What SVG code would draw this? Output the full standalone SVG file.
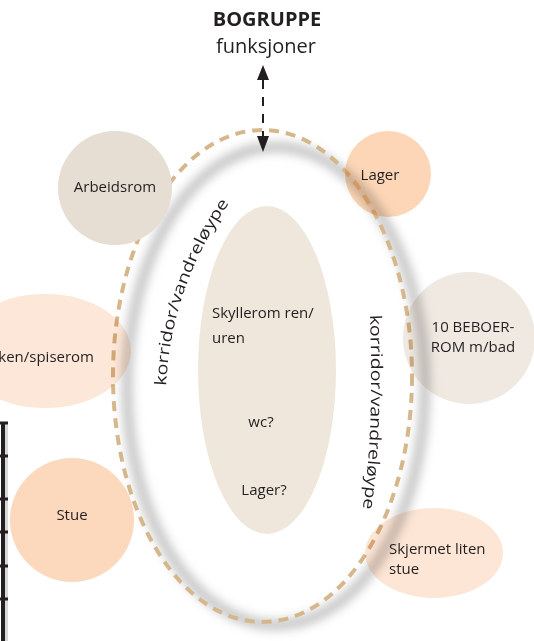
<svg xmlns="http://www.w3.org/2000/svg" width="534" height="641" viewBox="0 0 534 641">
<defs>
<style>
text{font-family:"Open Sans","Noto Sans",sans-serif;font-size:15px;fill:#231f20}
.c{text-anchor:middle}
.mb{mix-blend-mode:multiply}
.k{font-size:16px}
</style>
<filter id="blur" x="-20%" y="-20%" width="140%" height="140%"><feGaussianBlur stdDeviation="5"/></filter>
<path id="pl" d="M 166 386 C 169 330 184 268 232 199"/>
<path id="pr" d="M 370 315 C 372 380 372 450 362 514"/>
</defs>
<rect width="534" height="641" fill="#fff"/>

<g id="left-bar">
<rect x="5" y="422" width="3" height="219" fill="#d8d8d8"/>
<rect x="1" y="422" width="4" height="219" fill="#231f20"/>
<g stroke="#231f20" stroke-width="3">
<line x1="0" y1="423" x2="8" y2="423"/>
<line x1="0" y1="456" x2="8" y2="456"/>
<line x1="0" y1="499" x2="8" y2="499"/>
<line x1="0" y1="532" x2="8" y2="532"/>
<line x1="0" y1="566" x2="8" y2="566"/>
<line x1="0" y1="599" x2="8" y2="599"/>
</g>
</g>

<g id="ring">
<ellipse cx="276" cy="386" rx="149" ry="239" fill="none" stroke="#c8c8c8" stroke-width="11" filter="url(#blur)"/>
<ellipse cx="262.5" cy="376" rx="149.5" ry="246" fill="none" stroke="#d5b78b" stroke-width="4" stroke-dasharray="10 7"/>
</g>

<g id="center">
<ellipse cx="267" cy="370" rx="69" ry="164" fill="#efe7dc"/>
<text x="212" y="318">Skyllerom ren/</text>
<text x="212" y="343">uren</text>
<text x="261" y="427" class="c">wc?</text>
<text x="264" y="495" class="c">Lager?</text>
</g>

<g id="arbeidsrom">
<circle cx="115" cy="188" r="57" fill="#e6ddd3"/>
<text x="115" y="192" class="c">Arbeidsrom</text>
</g>
<g id="lager">
<circle cx="388" cy="174" r="43" fill="#fcd6b6" class="mb"/>
<text x="380" y="180" class="c">Lager</text>
</g>
<g id="beboerrom">
<circle cx="469" cy="338" r="66" fill="#efe9e2" class="mb"/>
<text x="473" y="332" class="c">10 BEBOER-</text>
<text x="473" y="352" class="c">ROM m/bad</text>
</g>
<g id="kjokken">
<ellipse cx="45" cy="351" rx="86" ry="57" fill="#fde7d8" class="mb"/>
<text x="94" y="362" text-anchor="end">ken/spiserom</text>
</g>
<g id="stue">
<circle cx="72" cy="520" r="62" fill="#fcd8bd" class="mb"/>
<text x="72" y="520" class="c">Stue</text>
</g>
<g id="skjermet">
<ellipse cx="434" cy="553" rx="69" ry="45" fill="#fde6d6" class="mb"/>
<text x="389" y="554">Skjermet liten</text>
<text x="389" y="574">stue</text>
</g>

<g id="title">
<text x="267" y="26" class="c" style="font-size:20px;font-weight:bold">BOGRUPPE</text>
<text x="266" y="53" class="c" style="font-size:20px">funksjoner</text>
</g>

<g id="corridor-labels">
<text class="k"><textPath href="#pl" textLength="196" lengthAdjust="spacingAndGlyphs">korridor/vandreløype</textPath></text>
<text class="k"><textPath href="#pr" textLength="194" lengthAdjust="spacingAndGlyphs">korridor/vandreløype</textPath></text>
</g>

<g id="connectors">
<line x1="263" y1="80" x2="263" y2="137" stroke="#231f20" stroke-width="2" stroke-dasharray="9 8"/>
<path d="M257,80 L263,65 L269,80 Z" fill="#231f20"/>
<path d="M257,136 L263,152 L269,136 Z" fill="#231f20"/>
</g>
</svg>
